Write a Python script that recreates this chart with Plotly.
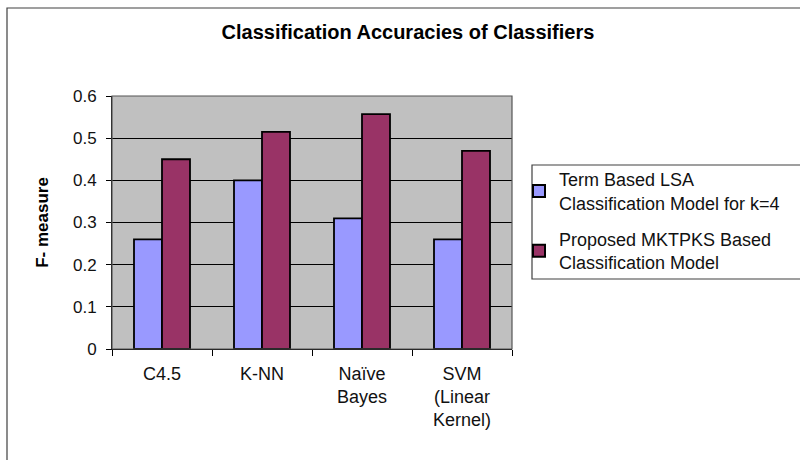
import plotly.graph_objects as go

categories = ["C4.5", "K-NN", "Naïve<br>Bayes", "SVM<br>(Linear<br>Kernel)"]
series_names = ["Term Based LSA<br>Classification Model for k=4",
                "Proposed MKTPKS Based<br>Classification Model"]
lsa_values = [0.26, 0.40, 0.31, 0.26]
mktpks_values = [0.45, 0.515, 0.557, 0.47]
y_ticks = [0, 0.1, 0.2, 0.3, 0.4, 0.5, 0.6]
y_tick_labels = ["0", "0.1", "0.2", "0.3", "0.4", "0.5", "0.6"]

FONT = "Liberation Sans, Arial, sans-serif"

fig = go.Figure()
fig.add_trace(go.Bar(x=categories, y=lsa_values, name=series_names[0], legendgroup="lsa",
                     marker=dict(color="#9999FF", line=dict(color="black", width=1.8))))
fig.add_trace(go.Bar(x=categories, y=mktpks_values, name=series_names[1], legendgroup="mktpks",
                     marker=dict(color="#993366", line=dict(color="black", width=1.8))))

L, R, T, B = 112, 512, 96, 349
W, H = 800, 460
pw, ph = R - L, B - T

def px(xp):
    return (xp - L) / pw

def py(yp):
    return (B - yp) / ph

shapes = [
    # outer frame
    dict(type="rect", xref="paper", yref="paper", x0=px(7), x1=px(810), y0=py(470), y1=py(8),
         line=dict(color="#404040", width=1.2), fillcolor="rgba(0,0,0,0)", layer="below"),
    # legend box
    dict(type="rect", xref="paper", yref="paper", x0=px(532), x1=px(812), y0=py(279), y1=py(165),
         line=dict(color="#404040", width=1.2), fillcolor="rgba(0,0,0,0)"),
    # plot-area border
    dict(type="rect", xref="paper", yref="paper", x0=0, x1=1, y0=0, y1=1,
         line=dict(color="#555", width=1.2), fillcolor="rgba(0,0,0,0)"),
]

fig.update_layout(
    width=W, height=H,
    margin=dict(l=L, r=W - R, t=T, b=H - B, pad=0),
    paper_bgcolor="white",
    plot_bgcolor="#C0C0C0",
    barmode="group",
    bargap=0.44,
    bargroupgap=0,
    font=dict(family=FONT, color="black", size=17),
    title=dict(text="<b>Classification Accuracies of Classifiers</b>", xref="container",
               x=408 / W, xanchor="center",
               y=1 - 32 / H, yanchor="middle", font=dict(family=FONT, size=20, color="black")),
    showlegend=True,
    legend=dict(x=px(519), y=py(161), xanchor="left", yanchor="top",
                bgcolor="rgba(0,0,0,0)", borderwidth=0,
                font=dict(family=FONT, size=18, color="#111"),
                tracegroupgap=10, itemsizing="constant"),
    shapes=shapes,
    xaxis=dict(showgrid=False, ticks="outside", tickson="boundaries", ticklen=6,
               tickcolor="black", showline=True, linecolor="black", linewidth=1,
               ticklabelstandoff=8,
               tickfont=dict(family=FONT, size=18, color="#111"),
               fixedrange=True),
    yaxis=dict(range=[0, 0.6], tickvals=y_ticks, ticktext=y_tick_labels,
               showgrid=True, gridcolor="black", gridwidth=1,
               ticks="outside", ticklen=5, tickcolor="black",
               showline=True, linecolor="black", linewidth=1,
               ticklabelstandoff=6,
               tickfont=dict(family=FONT, size=17, color="#111"),
               title=dict(text="<b>F- measure</b>", font=dict(family=FONT, size=17, color="black"),
                          standoff=20),
               zeroline=False, fixedrange=True),
)

fig.write_html("out.html", config={"displayModeBar": False},
               post_script="document.body.style.margin='0';")
